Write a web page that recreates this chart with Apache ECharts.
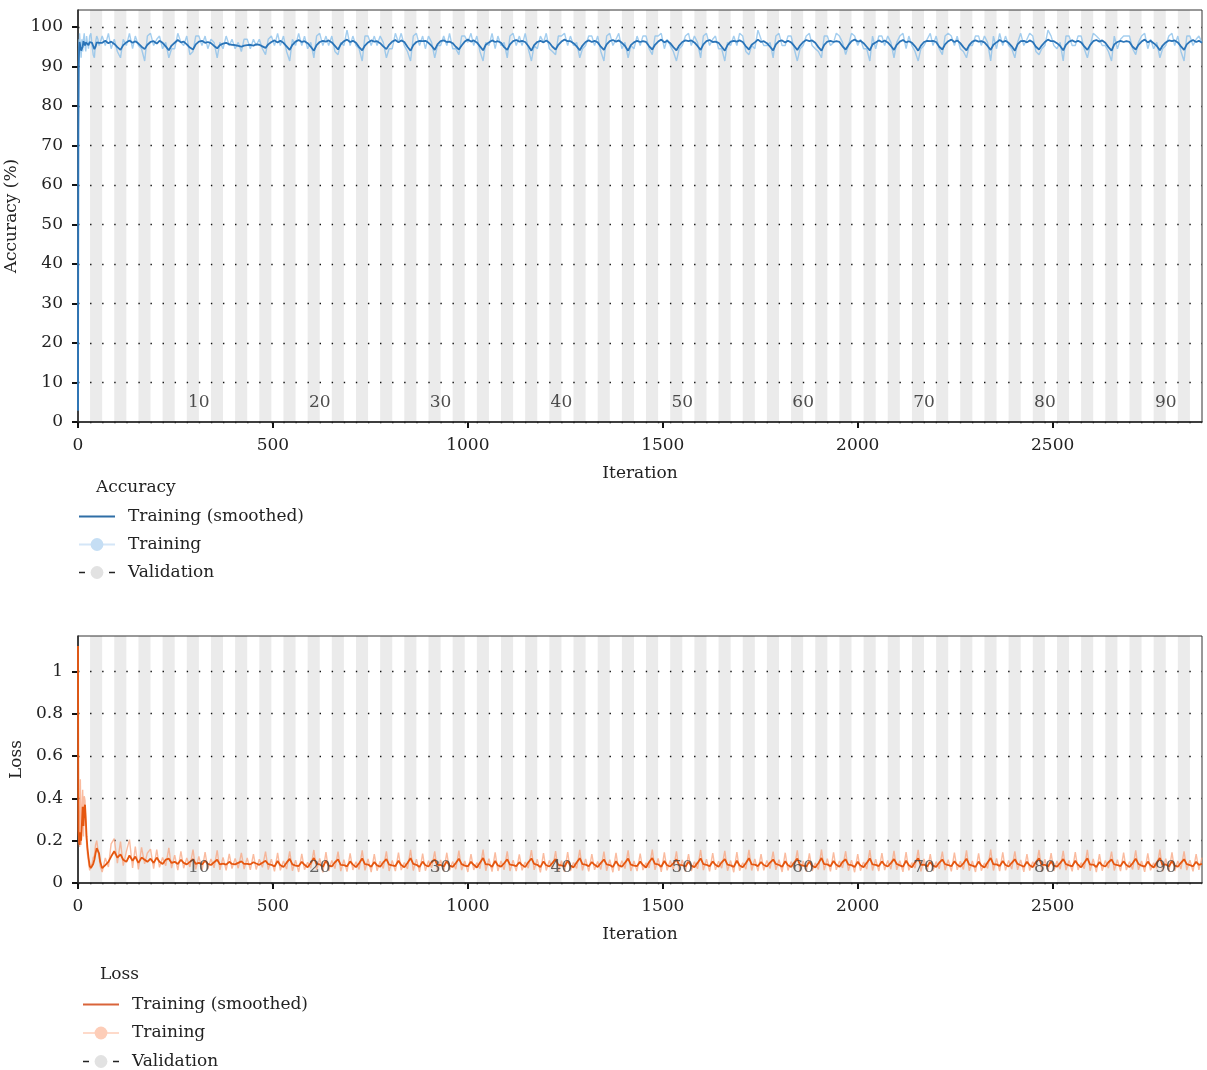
<!DOCTYPE html>
<html><head><meta charset="utf-8">
<script src="https://cdn.jsdelivr.net/npm/echarts@6/dist/echarts.min.js"></script>
<style>html,body{margin:0;padding:0;background:#fff}#c{width:1207px;height:1070px}</style>
</head><body><div id="c"></div>
<script>
// ---------------- data ----------------
const itersPerEpoch = 31;
const totalIterations = 2883;
const epochLabels = [10, 20, 30, 40, 50, 60, 70, 80, 90];
const xTicks = [0, 500, 1000, 1500, 2000, 2500];
const accTicks = [0, 10, 20, 30, 40, 50, 60, 70, 80, 90, 100];
const lossTicks = [0, 0.2, 0.4, 0.6, 0.8, 1];

// first iterations (explicit iteration numbers)
const earlyIters = [0,1,2,3,4,6,8,10,12,14,16,18,20,22,24,27,30,33,36,39,42,45,48,51,54,57];
const accSmoothEarly = [2.9,74.0,90.5,94.8,96.2,95.1,94.0,93.6,95.0,96.4,96.0,95.3,96.1,96.5,95.8,95.4,96.2,96.6,96.0,95.2,94.4,95.0,96.1,96.4,96.0,95.7];
const accRawEarly = [2.9,89.6,96.9,93.8,98.4,95.3,92.2,96.9,93.8,96.9,98.4,95.3,93.8,97.7,96.1,94.5,97.7,98.4,95.3,93.0,92.2,96.1,97.7,96.9,95.3,96.1];
const lossSmoothEarly = [1.12,0.25,0.22,0.19,0.18,0.24,0.20,0.28,0.36,0.27,0.35,0.37,0.30,0.22,0.17,0.12,0.08,0.07,0.075,0.09,0.11,0.14,0.165,0.17,0.14,0.10];
const lossRawEarly = [1.12,0.45,0.19,0.21,0.17,0.49,0.18,0.35,0.44,0.22,0.41,0.39,0.25,0.19,0.14,0.10,0.06,0.08,0.09,0.12,0.13,0.18,0.20,0.16,0.12,0.08];

// afterwards: one stored sample every quarter epoch, starting at iteration 62
const sampleStart = 62;
const sampleStep = 7.75;

const accSmooth = [
96.0,96.5,95.9,96.3,95.7,94.9,94.2,95.4,
96.1,96.6,96.0,96.4,95.8,95.0,94.4,95.5,
96.2,96.4,95.8,96.5,96.0,95.1,94.1,95.3,
96.0,96.7,96.1,96.3,95.6,94.8,94.3,95.6,
96.3,96.5,96.0,96.2,95.9,95.2,94.6,95.4,
95.8,96.0,95.6,95.5,95.4,95.2,95.0,95.3,
95.4,95.5,95.3,95.6,95.5,95.1,94.7,95.6,
96.2,96.6,96.1,96.5,96.0,95.1,94.2,95.5,
96.3,96.7,96.2,96.4,95.9,95.0,94.0,95.4,
96.2,96.5,96.3,96.6,96.1,95.2,94.3,95.6,
96.4,96.8,96.2,96.5,96.0,94.9,94.1,95.3,
96.1,96.6,96.3,96.4,95.9,95.1,94.4,95.5,
96.3,96.7,96.1,96.6,96.2,95.0,94.0,95.4,
96.2,96.5,96.4,96.5,96.0,95.2,94.2,95.6,
96.4,96.6,96.2,96.3,95.9,95.0,94.3,95.3,
96.3,96.8,96.3,96.6,96.1,95.1,94.1,95.5,
96.1,96.6,96.2,96.4,96.0,94.9,94.2,95.6,
96.4,96.7,96.3,96.5,96.2,95.2,94.0,95.4,
96.2,96.5,96.1,96.6,96.0,95.0,94.3,95.5,
96.3,96.8,96.4,96.4,95.9,95.1,94.1,95.3,
96.2,96.6,96.2,96.5,96.1,95.0,94.2,95.6,
96.4,96.7,96.3,96.6,96.0,95.2,94.0,95.4,
96.1,96.5,96.2,96.4,96.2,95.1,94.3,95.5,
96.3,96.8,96.1,96.5,95.9,94.9,94.1,95.3,
96.2,96.6,96.4,96.6,96.1,95.2,94.2,95.6,
96.4,96.7,96.2,96.3,96.0,95.0,94.0,95.4,
96.3,96.5,96.3,96.6,96.2,95.1,94.3,95.5,
96.1,96.8,96.2,96.4,95.9,95.0,94.1,95.6,
96.4,96.6,96.1,96.5,96.1,95.2,94.2,95.3,
96.2,96.7,96.4,96.6,96.0,94.9,94.0,95.5,
96.3,96.5,96.2,96.4,96.2,95.1,94.3,95.4,
96.4,96.8,96.3,96.5,95.9,95.0,94.1,95.6,
96.1,96.6,96.2,96.6,96.1,95.2,94.2,95.5,
96.3,96.7,96.1,96.4,96.0,95.1,94.0,95.3,
96.2,96.5,96.4,96.5,96.2,95.0,94.3,95.6,
96.4,96.8,96.2,96.6,95.9,94.9,94.1,95.4,
96.3,96.6,96.3,96.4,96.1,95.2,94.2,95.5,
96.1,96.7,96.2,96.5,96.0,95.1,94.0,95.6,
96.4,96.5,96.1,96.6,96.2,95.0,94.3,95.3,
96.2,96.8,96.4,96.4,95.9,95.2,94.1,95.5,
96.3,96.6,96.2,96.5,96.1,95.1,94.2,95.4,
96.4,96.7,96.3,96.6,96.0,94.9,94.0,95.6,
96.2,96.5,96.2,96.4,96.2,95.0,94.3,95.5,
96.3,96.8,96.1,96.5,95.9,95.2,94.1,95.3,
96.1,96.6,96.4,96.6,96.1,95.1,94.2,95.6,
96.3,96.7,96.2,96.5,96.0
];

const accRaw = [
97.7,95.3,98.4,94.5,96.9,93.8,92.2,96.9,
95.3,98.4,94.5,97.7,95.3,94.5,91.4,97.7,
98.4,95.3,96.9,97.7,94.5,96.1,92.2,94.5,
94.5,98.4,96.1,95.3,97.7,93.0,93.8,97.7,
97.7,95.3,97.7,94.5,96.9,96.1,92.2,96.1,
94.5,97.7,95.3,96.9,94.5,96.1,93.8,96.9,
96.9,94.5,96.9,95.3,96.9,94.5,93.0,96.9,
97.7,95.3,98.4,95.3,97.7,93.8,91.4,96.9,
95.3,98.4,95.3,97.7,94.5,96.1,92.2,97.7,
98.4,95.3,97.7,95.3,97.7,93.8,93.0,96.1,
95.3,99.2,95.3,97.7,95.3,94.5,91.4,97.7,
97.7,95.3,97.7,95.3,97.7,96.1,92.2,94.5,
94.5,98.4,96.1,98.4,95.3,93.8,91.4,97.7,
98.4,95.3,97.7,94.5,97.7,96.1,92.2,95.3,
95.3,97.7,95.3,98.4,94.5,94.5,93.0,97.7,
97.7,96.1,98.4,95.3,97.7,93.8,91.4,96.1,
95.3,98.4,94.5,97.7,95.3,96.1,92.2,97.7,
98.4,95.3,97.7,95.3,98.4,94.5,91.4,95.3,
94.5,97.7,96.1,98.4,94.5,93.8,93.0,97.7,
97.7,98.4,95.3,97.7,95.3,96.1,92.2,94.5,
95.3,97.7,97.7,95.3,97.7,93.8,91.4,97.7,
98.4,95.3,96.9,98.4,94.5,96.1,92.2,95.3,
94.5,97.7,95.3,97.7,97.7,94.5,93.0,97.7,
97.7,98.4,94.5,96.9,95.3,93.8,91.4,94.5,
95.3,97.7,98.4,95.3,97.7,96.1,92.2,97.7,
98.4,95.3,96.9,97.7,94.5,94.5,91.4,96.1,
95.3,97.7,95.3,98.4,97.7,93.8,93.0,95.3,
94.5,99.2,96.9,95.3,95.3,96.1,92.2,97.7,
98.4,95.3,95.3,97.7,97.7,94.5,91.4,94.5,
95.3,97.7,98.4,95.3,94.5,93.8,92.2,97.7,
97.7,95.3,96.1,98.4,97.7,96.1,93.0,95.3,
98.4,97.7,95.3,96.9,94.5,94.5,91.4,97.7,
94.5,97.7,97.7,95.3,97.7,96.1,92.2,96.1,
97.7,98.4,94.5,97.7,95.3,93.8,91.4,94.5,
95.3,96.9,98.4,95.3,97.7,94.5,93.0,97.7,
98.4,97.7,95.3,97.7,94.5,93.8,92.2,95.3,
95.3,97.7,97.7,95.3,97.7,96.1,91.4,97.7,
94.5,98.4,95.3,97.7,95.3,94.5,92.2,96.1,
98.4,95.3,96.9,98.4,97.7,93.8,93.0,94.5,
95.3,99.2,97.7,95.3,94.5,96.1,91.4,97.7,
97.7,95.3,95.3,97.7,97.7,94.5,92.2,95.3,
98.4,97.7,96.9,95.3,95.3,93.8,91.4,97.7,
94.5,96.9,97.7,97.7,97.7,94.5,93.0,96.1,
97.7,98.4,94.5,96.9,94.5,96.1,92.2,94.5,
95.3,97.7,98.4,95.3,97.7,93.8,91.4,97.7,
97.7,95.3,96.9,97.7,96.1
];

const lossSmooth = [
0.070,0.085,0.100,0.125,0.150,0.120,0.135,0.110,
0.100,0.130,0.105,0.125,0.095,0.120,0.110,0.100,
0.115,0.095,0.120,0.100,0.090,0.110,0.115,0.095,
0.100,0.090,0.110,0.095,0.088,0.100,0.112,0.090,
0.095,0.088,0.105,0.090,0.085,0.098,0.110,0.088,
0.092,0.087,0.100,0.090,0.088,0.095,0.102,0.090,
0.090,0.088,0.098,0.092,0.086,0.096,0.105,0.089,
0.086,0.078,0.104,0.084,0.076,0.096,0.114,0.088,
0.082,0.080,0.100,0.086,0.074,0.094,0.118,0.090,
0.088,0.076,0.106,0.082,0.078,0.098,0.112,0.086,
0.084,0.079,0.102,0.087,0.075,0.093,0.116,0.089,
0.087,0.077,0.099,0.083,0.077,0.097,0.113,0.087,
0.083,0.080,0.105,0.085,0.074,0.095,0.117,0.090,
0.086,0.076,0.101,0.084,0.078,0.099,0.111,0.086,
0.085,0.078,0.103,0.082,0.076,0.094,0.115,0.089,
0.082,0.079,0.100,0.086,0.073,0.096,0.118,0.088,
0.088,0.077,0.104,0.083,0.077,0.093,0.112,0.087,
0.084,0.080,0.098,0.085,0.075,0.098,0.116,0.090,
0.086,0.075,0.102,0.084,0.078,0.095,0.113,0.086,
0.083,0.078,0.105,0.082,0.074,0.097,0.117,0.089,
0.087,0.079,0.099,0.086,0.076,0.094,0.111,0.088,
0.085,0.076,0.103,0.083,0.077,0.096,0.115,0.087,
0.082,0.080,0.101,0.085,0.073,0.099,0.118,0.090,
0.088,0.077,0.104,0.084,0.078,0.093,0.112,0.086,
0.084,0.078,0.100,0.082,0.075,0.095,0.116,0.089,
0.086,0.079,0.102,0.086,0.077,0.098,0.113,0.087,
0.083,0.076,0.105,0.083,0.074,0.094,0.117,0.088,
0.087,0.080,0.099,0.085,0.078,0.096,0.111,0.090,
0.085,0.077,0.103,0.084,0.076,0.097,0.115,0.086,
0.082,0.078,0.101,0.082,0.073,0.093,0.118,0.089,
0.088,0.079,0.104,0.086,0.077,0.099,0.112,0.087,
0.084,0.076,0.100,0.083,0.075,0.095,0.116,0.088,
0.086,0.080,0.102,0.085,0.078,0.094,0.113,0.090,
0.083,0.077,0.105,0.084,0.074,0.098,0.117,0.086,
0.087,0.078,0.099,0.082,0.076,0.096,0.111,0.089,
0.085,0.079,0.103,0.086,0.077,0.093,0.115,0.087,
0.082,0.076,0.101,0.083,0.073,0.097,0.118,0.088,
0.088,0.080,0.104,0.085,0.078,0.095,0.112,0.090,
0.084,0.077,0.100,0.084,0.075,0.099,0.116,0.086,
0.086,0.078,0.102,0.082,0.077,0.094,0.113,0.089,
0.083,0.079,0.105,0.086,0.074,0.096,0.117,0.087,
0.087,0.076,0.099,0.083,0.078,0.098,0.111,0.088,
0.085,0.080,0.103,0.085,0.076,0.093,0.115,0.090,
0.082,0.077,0.101,0.084,0.073,0.097,0.118,0.086,
0.088,0.078,0.104,0.082,0.077,0.095,0.112,0.089,
0.084,0.079,0.100,0.086,0.090
];

const lossRaw = [
0.052,0.118,0.076,0.185,0.210,0.094,0.196,0.082,
0.148,0.205,0.071,0.172,0.064,0.168,0.090,0.142,
0.160,0.068,0.158,0.074,0.121,0.082,0.166,0.070,
0.132,0.061,0.150,0.070,0.118,0.076,0.158,0.064,
0.126,0.058,0.146,0.066,0.114,0.072,0.154,0.062,
0.121,0.060,0.138,0.068,0.116,0.070,0.142,0.066,
0.118,0.062,0.136,0.064,0.112,0.074,0.148,0.063,
0.112,0.055,0.142,0.060,0.104,0.066,0.150,0.058,
0.108,0.052,0.138,0.063,0.098,0.070,0.156,0.062,
0.116,0.050,0.146,0.057,0.106,0.068,0.148,0.056,
0.110,0.054,0.140,0.062,0.100,0.064,0.154,0.060,
0.114,0.051,0.136,0.058,0.103,0.069,0.150,0.057,
0.106,0.056,0.144,0.061,0.097,0.067,0.157,0.059,
0.113,0.053,0.139,0.058,0.105,0.071,0.149,0.055,
0.109,0.055,0.143,0.060,0.101,0.065,0.153,0.061,
0.104,0.052,0.137,0.062,0.096,0.068,0.158,0.058,
0.115,0.054,0.145,0.057,0.104,0.063,0.150,0.057,
0.108,0.056,0.135,0.060,0.099,0.070,0.155,0.062,
0.112,0.050,0.141,0.059,0.106,0.066,0.151,0.055,
0.105,0.053,0.146,0.057,0.097,0.069,0.157,0.060,
0.114,0.055,0.136,0.062,0.102,0.064,0.148,0.058,
0.110,0.051,0.142,0.058,0.105,0.068,0.154,0.057,
0.104,0.056,0.139,0.061,0.095,0.071,0.158,0.062,
0.116,0.053,0.145,0.060,0.106,0.063,0.150,0.055,
0.109,0.054,0.137,0.057,0.100,0.067,0.156,0.061,
0.112,0.055,0.141,0.062,0.103,0.070,0.152,0.058,
0.106,0.051,0.146,0.058,0.096,0.065,0.157,0.059,
0.114,0.056,0.136,0.060,0.106,0.068,0.148,0.062,
0.110,0.052,0.143,0.059,0.101,0.069,0.154,0.055,
0.104,0.054,0.140,0.057,0.095,0.064,0.158,0.061,
0.115,0.055,0.145,0.062,0.104,0.071,0.150,0.058,
0.108,0.051,0.137,0.058,0.099,0.066,0.155,0.059,
0.112,0.056,0.141,0.061,0.106,0.065,0.152,0.062,
0.105,0.053,0.146,0.060,0.096,0.070,0.157,0.055,
0.114,0.054,0.136,0.057,0.101,0.067,0.148,0.061,
0.110,0.055,0.143,0.062,0.103,0.064,0.154,0.058,
0.104,0.052,0.140,0.058,0.095,0.069,0.158,0.059,
0.116,0.056,0.145,0.060,0.106,0.066,0.150,0.062,
0.109,0.053,0.137,0.059,0.100,0.071,0.156,0.055,
0.112,0.054,0.141,0.057,0.104,0.065,0.152,0.061,
0.106,0.055,0.146,0.062,0.096,0.068,0.157,0.058,
0.114,0.051,0.136,0.058,0.106,0.070,0.148,0.059,
0.110,0.056,0.143,0.061,0.101,0.064,0.154,0.062,
0.104,0.053,0.140,0.060,0.095,0.069,0.158,0.055,
0.115,0.054,0.145,0.057,0.104,0.066,0.150,0.061,
0.108,0.055,0.137,0.062,0.120
];

const seriesLabels = {
  acc_smooth: 'Training (smoothed)', acc_raw: 'Training', acc_val: 'Validation',
  loss_smooth: 'Training (smoothed)', loss_raw: 'Training', loss_val: 'Validation'
};

// ---------------- build ----------------
function buildSeries(early, regular) {
  const out = early.map((v, i) => [earlyIters[i], v]);
  regular.forEach((v, i) => out.push([Math.round(sampleStart + i * sampleStep), v]));
  return out;
}
const nEpochs = Math.ceil(totalIterations / itersPerEpoch);
const bands = [];
for (let e = 2; e <= nEpochs; e += 2) {
  bands.push([{ xAxis: (e - 1) * itersPerEpoch }, { xAxis: Math.min(e * itersPerEpoch, totalIterations) }]);
}

const FONT = 'DejaVu Serif';
const FS = 17;
const txt = { fontFamily: FONT, fontSize: FS, color: '#222' };

function xAxisCfg(gi) {
  return {
    type: 'value', gridIndex: gi, min: 0, max: totalIterations, z: 5,
    name: 'Iteration', nameLocation: 'middle', nameGap: 43,
    nameTextStyle: Object.assign({}, txt),
    axisLine: { onZero: false, lineStyle: { color: '#111', width: 1.5 } },
    axisTick: { customValues: xTicks, length: 6, lineStyle: { color: '#111', width: 2 } },
    axisLabel: Object.assign({ customValues: xTicks, margin: 15, formatter: v => String(v) }, txt),
    splitLine: { show: false }
  };
}
function yAxisCfg(gi, name, max, interval, ticks) {
  return {
    type: 'value', gridIndex: gi, min: 0, max: max, interval: interval, z: 5,
    name: name, nameLocation: 'middle', nameGap: 52, nameRotate: 90,
    nameTextStyle: Object.assign({}, txt),
    axisLine: { show: true, onZero: false, lineStyle: { color: '#111', width: 1.5 } },
    axisTick: { customValues: ticks, length: 6, lineStyle: { color: '#111', width: 2 } },
    axisLabel: Object.assign({ customValues: ticks, margin: 15, formatter: v => String(v) }, txt),
    splitLine: { show: true, lineStyle: { color: '#111', width: 1.4, type: [1.4, 10.68] } }
  };
}

function bandSeries(gi) {
  return {
    type: 'line', xAxisIndex: gi, yAxisIndex: gi, data: [], z: -1, silent: true,
    markArea: { silent: true, z: -1, itemStyle: { color: '#ebebeb' }, data: bands }
  };
}
function epochSeries(gi, yPos, color) {
  return {
    type: 'scatter', xAxisIndex: gi, yAxisIndex: gi, z: 12, silent: true,
    symbolSize: 0,
    data: epochLabels.map(e => [e * itersPerEpoch, yPos, e]),
    label: { show: true, position: 'inside', formatter: p => String(p.value[2]),
      fontFamily: FONT, fontSize: FS, color: color }
  };
}
const legendText = { fontFamily: FONT, fontSize: FS, color: '#222', padding: [0, 0, 0, 8] };

const option = {
  animation: false,
  backgroundColor: '#fff',
  title: [
    { text: 'Accuracy', left: 96, top: 479, padding: 0, textStyle: { fontFamily: FONT, fontSize: FS, fontWeight: 'normal', color: '#222' } },
    { text: 'Loss', left: 100, top: 966, padding: 0, textStyle: { fontFamily: FONT, fontSize: FS, fontWeight: 'normal', color: '#222' } }
  ],
  grid: [
    { left: 78, right: 5, top: 10, height: 412, outerBoundsMode: 'none', containLabel: false, z: 6,
      show: true, borderColor: '#333', borderWidth: 1, backgroundColor: 'transparent' },
    { left: 78, right: 5, top: 636, height: 247, outerBoundsMode: 'none', containLabel: false, z: 6,
      show: true, borderColor: '#333', borderWidth: 1, backgroundColor: 'transparent' }
  ],
  xAxis: [xAxisCfg(0), xAxisCfg(1)],
  yAxis: [
    yAxisCfg(0, 'Accuracy (%)', 104.3, 10, accTicks),
    yAxisCfg(1, 'Loss', 1.167, 0.2, lossTicks)
  ],
  legend: [
    {
      orient: 'vertical', left: 78, top: 508, height: 100, padding: 0, itemWidth: 36, itemHeight: 16, itemGap: 11,
      selectedMode: false, formatter: n => seriesLabels[n], textStyle: legendText,
      data: [
        { name: 'acc_smooth', lineStyle: { color: '#2f6ea6', width: 2 }, itemStyle: { opacity: 0, color: 'rgba(0,0,0,0)' } },
        { name: 'acc_raw', lineStyle: { color: '#c5def4', width: 2 }, itemStyle: { color: '#c5def4' } },
        { name: 'acc_val', lineStyle: { color: '#222', width: 1.5, type: [6, 9] }, itemStyle: { color: '#e2e2e2' } }
      ]
    },
    {
      orient: 'vertical', left: 82, top: 996, height: 80, padding: 0, itemWidth: 36, itemHeight: 16, itemGap: 11.5,
      selectedMode: false, formatter: n => seriesLabels[n], textStyle: legendText,
      data: [
        { name: 'loss_smooth', lineStyle: { color: '#d9643a', width: 2 }, itemStyle: { opacity: 0, color: 'rgba(0,0,0,0)' } },
        { name: 'loss_raw', lineStyle: { color: '#fdcdb8', width: 2 }, itemStyle: { color: '#fdcdb8' } },
        { name: 'loss_val', lineStyle: { color: '#222', width: 1.5, type: [6, 9] }, itemStyle: { color: '#e2e2e2' } }
      ]
    }
  ],
  series: [
    bandSeries(0),
    bandSeries(1),
    { name: 'acc_raw', type: 'line', xAxisIndex: 0, yAxisIndex: 0, symbol: 'circle', showSymbol: false,
      data: buildSeries(accRawEarly, accRaw), z: 7,
      lineStyle: { color: '#86bdea', width: 1.4, opacity: 0.75 }, itemStyle: { color: '#c5def4' } },
    { name: 'acc_smooth', type: 'line', xAxisIndex: 0, yAxisIndex: 0, symbol: 'none',
      data: buildSeries(accSmoothEarly, accSmooth), z: 8,
      lineStyle: { color: '#2a74b8', width: 1.8 } },
    { name: 'acc_val', type: 'line', xAxisIndex: 0, yAxisIndex: 0, data: [], symbol: 'circle',
      lineStyle: { color: '#222', type: [6, 9] }, itemStyle: { color: '#e2e2e2' } },
    { name: 'loss_raw', type: 'line', xAxisIndex: 1, yAxisIndex: 1, symbol: 'circle', showSymbol: false,
      data: buildSeries(lossRawEarly, lossRaw), z: 7,
      lineStyle: { color: '#f8a47f', width: 1.4, opacity: 0.75 }, itemStyle: { color: '#fdcdb8' } },
    { name: 'loss_smooth', type: 'line', xAxisIndex: 1, yAxisIndex: 1, symbol: 'none',
      data: buildSeries(lossSmoothEarly, lossSmooth), z: 8,
      lineStyle: { color: '#e5560f', width: 1.8 } },
    { name: 'loss_val', type: 'line', xAxisIndex: 1, yAxisIndex: 1, data: [], symbol: 'circle',
      lineStyle: { color: '#222', type: [6, 9] }, itemStyle: { color: '#e2e2e2' } },
    epochSeries(0, 4.8, '#222'),
    epochSeries(1, 0.075, '#444')
  ]
};

const chart = echarts.init(document.getElementById('c'), null, { renderer: 'canvas' });
chart.setOption(option);
</script>
</body></html>
